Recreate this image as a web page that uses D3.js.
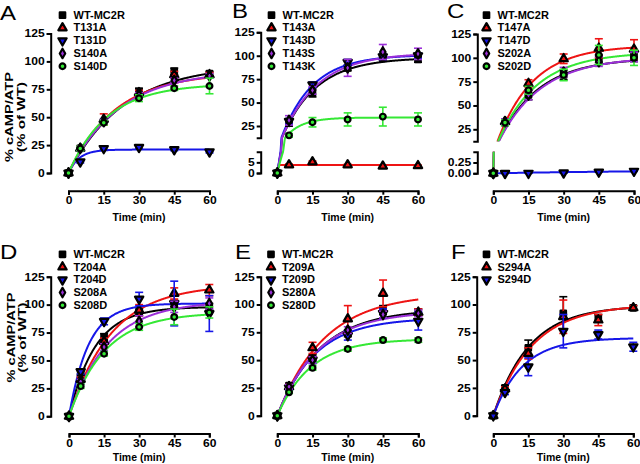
<!DOCTYPE html>
<html>
<head>
<meta charset="utf-8">
<script src="https://cdn.jsdelivr.net/npm/d3@7"></script>
<style>
body { margin: 0; background: #fff; }
svg text { font-family: "Liberation Sans", Arial, sans-serif; fill: #000; }
</style>
</head>
<body>
<script>
// sampling times (min) and axis ticks
var times = [0, 5, 15, 30, 45, 60];
var xTicks = [0, 15, 30, 45, 60];
var yTicks = [0, 25, 50, 75, 100, 125];

// panel A
var namesA = ["WT-MC2R", "T131A", "T131D", "S140A", "S140D"];
var meansA = [
    [0, 22, 46, 73, 91, 89],
    [0, 22, 48, 72, 88, 88],
    [0, 10, 22, 23, 21, 19],
    [0, 22, 46, 70, 83, 87],
    [0, 22, 45, 67, 76, 78]
];
var semA = [
    [0, 2, 2, 3, 3, 2],
    [0, 2, 5, 2, 3, 2],
    [0, 1, 1, 1, 1, 1],
    [0, 2, 2, 2, 2, 2],
    [0, 2, 2, 3, 2, 7]
];
var plateauA = [97, 90, 21, 92, 80];
var rateA = [0.042, 0.05, 0.22, 0.046, 0.06];

// panel B
var namesB = ["WT-MC2R", "T143A", "T143D", "T143S", "T143K"];
var meansB = [
    [0, 28, 60, 87, 97, 96],
    [0, 3.8, 5.2, 3.8, 3.2, 3.4],
    [0, 30, 69, 93, 99, 100],
    [0, 31, 63, 87, 104, 102],
    [0, 15, 29, 32, 35, 32]
];
var semB = [
    [0, 3, 4, 3, 2, 3],
    [0, 0.4, 0.4, 0.3, 0.3, 0.3],
    [0, 3, 3, 3, 3, 3],
    [0, 5, 4, 9, 8, 6],
    [0, 2, 5, 7, 10, 7]
];
var plateauB = [98, 3.8, 101, 103, 34];
var rateB = [0.068, 3, 0.075, 0.065, 0.14];

// panel C
var namesC = ["WT-MC2R", "T147A", "T147D", "S202A", "S202D"];
var meansC = [
    [0, 32, 61, 82, 99, 100],
    [0, 33, 73, 99, 110, 109],
    [0, 0, 0.002, 0.01, 0.03, 0.05],
    [0, 33, 61, 85, 96, 101],
    [0, 32, 66, 82, 103, 100]
];
var semC = [
    [0, 3, 5, 5, 4, 4],
    [0, 3, 4, 5, 10, 10],
    [0, 0.003, 0.003, 0.003, 0.005, 0.005],
    [0, 3, 5, 5, 5, 5],
    [0, 3, 4, 6, 10, 8]
];
var plateauC = [100, 113, 0.1, 101, 106];
var rateC = [0.058, 0.065, 0.01, 0.055, 0.06];

// panel D
var namesD = ["WT-MC2R", "T204A", "T204D", "S208A", "S208D"];
var meansD = [
    [0, 39, 71, 93, 101, 98],
    [0, 33, 67, 95, 110, 113],
    [0, 40, 85, 105, 101, 92],
    [0, 31, 62, 85, 98, 101],
    [0, 27, 56, 80, 89, 93]
];
var semD = [
    [0, 2, 3, 3, 3, 3],
    [0, 2, 3, 5, 5, 5],
    [0, 2, 3, 6, 20, 16],
    [0, 2, 3, 5, 5, 5],
    [0, 2, 2, 3, 7, 5]
];
var plateauD = [98, 118, 101, 103, 93];
var rateD = [0.09, 0.055, 0.12, 0.06, 0.065];

// panel E
var namesE = ["WT-MC2R", "T209A", "T209D", "S280A", "S280D"];
var meansE = [
    [0, 27, 52, 74, 95, 93],
    [0, 26, 61, 87, 110, 93],
    [0, 25, 50, 72, 92, 85],
    [0, 26, 50, 77, 91, 92],
    [0, 21, 43, 60, 68, 68]
];
var semE = [
    [0, 2, 3, 3, 4, 3],
    [0, 2, 5, 12, 12, 3],
    [0, 2, 3, 4, 4, 8],
    [0, 2, 3, 3, 3, 3],
    [0, 1, 2, 2, 2, 2]
];
var plateauE = [96, 110, 88, 94, 69];
var rateE = [0.055, 0.05, 0.062, 0.057, 0.07];

// panel F
var namesF = ["WT-MC2R", "S294A", "S294D"];
var meansF = [
    [0, 25, 61, 92, 88, 97],
    [0, 24, 56, 89, 86, 97],
    [0, 21, 44, 76, 73, 62]
];
var semF = [
    [0, 2, 7, 15, 3, 2],
    [0, 2, 5, 15, 5, 2],
    [0, 2, 8, 15, 4, 4]
];
var plateauF = [99, 100, 70];
var rateF = [0.065, 0.06, 0.08];

// series styles by position: WT, xA, xD, yA, yD
var colors = ["#000000", "#ee1414", "#1616e8", "#9b2fd8", "#35e835"];
var symbols = [d3.symbolSquare, d3.symbolTriangle, d3.symbolTriangle, d3.symbolDiamond, d3.symbolCircle];
var symSize = [30, 30, 30, 26, 26];
var symRot = [0, 0, 180, 0, 0];

var panels = [
    {letter: "A", names: namesA, means: meansA, sem: semA, plateau: plateauA, rate: rateA,
     lx: 0, ly: 19.5, axX: 50.7, x0: 68.5, x1: 209.5, yB: 173, yT: 33.5, xAxisY: 190.7, titleY: 217.5,
     legX: 62.5, legY: 15.2, ylab: {x1: 9, x2: 21, cy: 117}},
    {letter: "B", names: namesB, means: meansB, sem: semB, plateau: plateauB, rate: rateB,
     lx: 232, ly: 17.5, axX: 260.7, x0: 277.3, x1: 418, yB: 173, yT: 32.3, xAxisY: 190.7, titleY: 217.5,
     legX: 271.5, legY: 15.2,
     brk: {lowTop: 10, yLowTop: 151.7, upBot: 12.5, yUpBot: 137.7, lowTicks: [0, 5]}},
    {letter: "C", names: namesC, means: meansC, sem: semC, plateau: plateauC, rate: rateC,
     lx: 447, ly: 17.5, axX: 477.3, x0: 493.3, x1: 634, yB: 173.3, yT: 34, xAxisY: 190.7, titleY: 217.5,
     legX: 486.5, legY: 15.2, clip: true,
     brk: {lowTop: 0.5, yLowTop: 151.7, upBot: 12.5, yUpBot: 141.2, lowTicks: [0, 0.25], fmt: d3.format(".2f")}},
    {letter: "D", names: namesD, means: meansD, sem: semD, plateau: plateauD, rate: rateD,
     lx: 0, ly: 258.5, axX: 50.7, x0: 69, x1: 209.3, yB: 416.3, yT: 276.7, xAxisY: 433.5, titleY: 457.5,
     legX: 62.5, legY: 254.3, ylab: {x1: 11, x2: 21.5, cy: 337.5}},
    {letter: "E", names: namesE, means: meansE, sem: semE, plateau: plateauE, rate: rateE,
     lx: 235, ly: 258.5, axX: 260.7, x0: 277.3, x1: 418.3, yB: 415.7, yT: 276.7, xAxisY: 433.5, titleY: 457.5,
     legX: 271, legY: 254.3},
    {letter: "F", names: namesF, means: meansF, sem: semF, plateau: plateauF, rate: rateF,
     lx: 451, ly: 258.5, axX: 476.7, x0: 493.3, x1: 633.3, yB: 415.7, yT: 276.7, xAxisY: 433.5, titleY: 457.5,
     legX: 486.5, legY: 254.3}
];

var svg = d3.select("body").append("svg")
    .attr("width", 640)
    .attr("height", 464);
svg.append("rect").attr("width", 640).attr("height", 464).attr("fill", "#fff");
var defs = svg.append("defs");

// the figure's lettering is a bit wider than plain Arial
function widen(sel, f) {
    sel.each(function() {
        var w = this.getComputedTextLength();
        d3.select(this).attr("textLength", w * f).attr("lengthAdjust", "spacingAndGlyphs");
    });
}

function styleAxis(sel) {
    sel.selectAll(".domain").attr("stroke", "#000").attr("stroke-width", 2);
    sel.selectAll(".tick line").attr("stroke", "#000").attr("stroke-width", 2);
    var t = sel.selectAll(".tick text")
        .attr("font-size", 10.5)
        .attr("font-weight", "bold")
        .attr("fill", "#000")
        .attr("font-family", "Liberation Sans, Arial, sans-serif");
    widen(t, 1.15);
}

function drawPanel(p, idx) {
    var g = svg.append("g");
    var x = d3.scaleLinear().domain([0, 60]).range([p.x0, p.x1]);
    var y, axes = [];

    if (p.brk) {
        y = d3.scaleLinear()
            .domain([0, p.brk.lowTop, p.brk.upBot, 125])
            .range([p.yB, p.brk.yLowTop, p.brk.yUpBot, p.yT]);
        axes.push({dom: [0, p.brk.lowTop], rng: [p.yB, p.brk.yLowTop], ticks: p.brk.lowTicks, fmt: p.brk.fmt});
        axes.push({dom: [p.brk.upBot, 125], rng: [p.brk.yUpBot, p.yT], ticks: yTicks.slice(1)});
    } else {
        y = d3.scaleLinear().domain([0, 125]).range([p.yB, p.yT]);
        axes.push({dom: [0, 125], rng: [p.yB, p.yT], ticks: yTicks});
    }

    // y axis (one or two segments)
    axes.forEach(function(a) {
        var s = d3.scaleLinear().domain(a.dom).range(a.rng);
        var ax = d3.axisLeft(s).tickValues(a.ticks).tickSize(4).tickSizeOuter(4).tickPadding(2);
        if (a.fmt) ax.tickFormat(a.fmt);
        var ag = g.append("g").attr("transform", "translate(" + p.axX + ",0)").call(ax);
        styleAxis(ag);
    });

    // x axis, detached below the plot
    var xg = g.append("g")
        .attr("transform", "translate(0," + p.xAxisY + ")")
        .call(d3.axisBottom(x).tickValues(xTicks).tickSize(4).tickSizeOuter(4).tickPadding(2));
    styleAxis(xg);

    var tt = g.append("text")
        .attr("x", (p.x0 + p.x1) / 2)
        .attr("y", p.titleY)
        .attr("text-anchor", "middle")
        .attr("dominant-baseline", "central")
        .attr("font-size", 10)
        .attr("font-weight", "bold")
        .text("Time (min)");
    widen(tt, 1.05);

    var lt = g.append("text")
        .attr("x", p.lx)
        .attr("y", p.ly)
        .attr("font-size", 20)
        .text(p.letter);
    widen(lt, 1.2);

    if (p.ylab) {
        g.append("text")
            .attr("transform", "translate(" + p.ylab.x1 + "," + p.ylab.cy + ") rotate(-90)")
            .attr("text-anchor", "middle")
            .attr("dominant-baseline", "central")
            .attr("font-size", 11)
            .attr("font-weight", "bold")
            .attr("textLength", 90)
            .attr("lengthAdjust", "spacingAndGlyphs")
            .text("% cAMP/ATP");
        g.append("text")
            .attr("transform", "translate(" + p.ylab.x2 + "," + p.ylab.cy + ") rotate(-90)")
            .attr("text-anchor", "middle")
            .attr("dominant-baseline", "central")
            .attr("font-size", 11)
            .attr("font-weight", "bold")
            .attr("textLength", 70)
            .attr("lengthAdjust", "spacingAndGlyphs")
            .text("(% of WT)");
    }

    // fitted one-phase association curves
    var curveG = g.append("g");
    if (p.clip) {
        var cid = "clip" + idx;
        var cp = defs.append("clipPath").attr("id", cid);
        cp.append("rect").attr("x", p.axX).attr("y", p.yT - 5)
            .attr("width", 640 - p.axX).attr("height", p.brk.yUpBot - p.yT + 5);
        cp.append("rect").attr("x", p.axX).attr("y", p.brk.yLowTop)
            .attr("width", 640 - p.axX).attr("height", p.yB - p.brk.yLowTop + 3);
        curveG.attr("clip-path", "url(#" + cid + ")");
    }
    var line = d3.line()
        .x(function(d) { return x(d[0]); })
        .y(function(d) { return y(d[1]); });
    p.names.forEach(function(n, i) {
        var pts = d3.range(0, 60.001, 0.2).map(function(t) {
            return [t, p.plateau[i] * (1 - Math.exp(-p.rate[i] * t))];
        });
        curveG.append("path")
            .attr("d", line(pts))
            .attr("fill", "none")
            .attr("stroke", colors[i])
            .attr("stroke-width", 2);
    });

    // error bars + markers
    p.names.forEach(function(n, i) {
        var sg = g.append("g");
        times.forEach(function(t, j) {
            var m = p.means[i][j], e = p.sem[i][j];
            if (e > 0) {
                var cx = x(t), yt = y(m + e), yb = y(m - e);
                sg.append("line").attr("x1", cx).attr("x2", cx).attr("y1", yt).attr("y2", yb)
                    .attr("stroke", colors[i]).attr("stroke-width", 1.6);
                [yt, yb].forEach(function(yy) {
                    sg.append("line").attr("x1", cx - 4).attr("x2", cx + 4).attr("y1", yy).attr("y2", yy)
                        .attr("stroke", colors[i]).attr("stroke-width", 1.6);
                });
            }
        });
        sg.selectAll("path.pt")
            .data(times)
            .enter().append("path")
            .attr("class", "pt")
            .attr("d", d3.symbol().type(symbols[i]).size(symSize[i]))
            .attr("transform", function(t, j) {
                return "translate(" + x(t) + "," + y(p.means[i][j]) + ") rotate(" + symRot[i] + ")";
            })
            .attr("fill", colors[i])
            .attr("stroke", "#000")
            .attr("stroke-width", 2.2)
            .attr("stroke-linejoin", "round");
    });

    // legend
    p.names.forEach(function(n, i) {
        var ly = p.legY + i * 12.75;
        g.append("path")
            .attr("d", d3.symbol().type(symbols[i]).size(symSize[i]))
            .attr("transform", "translate(" + p.legX + "," + ly + ") rotate(" + symRot[i] + ")")
            .attr("fill", colors[i])
            .attr("stroke", "#000")
            .attr("stroke-width", 2.2)
            .attr("stroke-linejoin", "round");
        var tx = g.append("text")
            .attr("x", p.legX + 11)
            .attr("y", ly)
            .attr("dominant-baseline", "central")
            .attr("font-size", 10)
            .attr("font-weight", "bold")
            .text(n);
        widen(tx, 1.1);
    });
}

panels.forEach(drawPanel);
</script>
</body>
</html>
